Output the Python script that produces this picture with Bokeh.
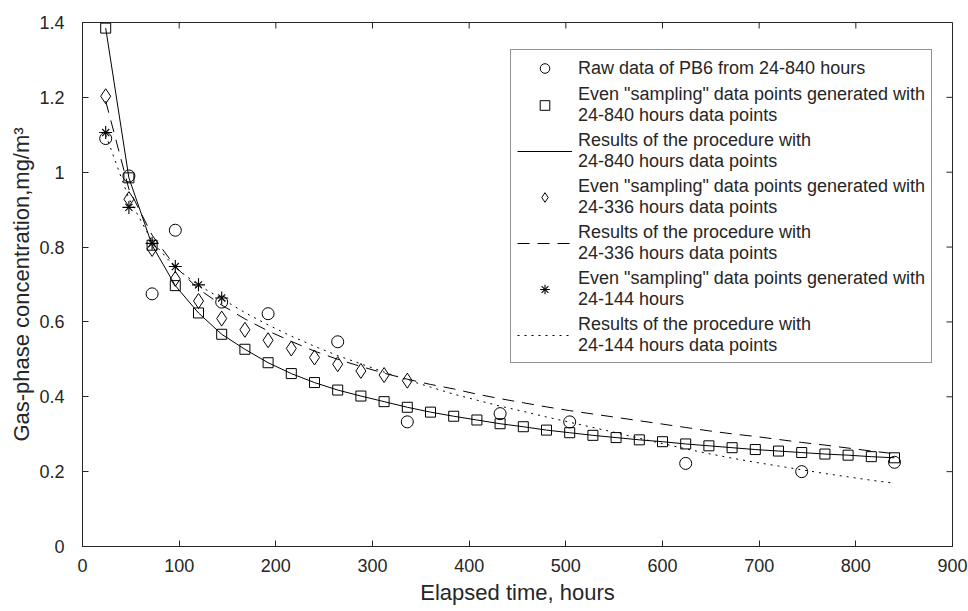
import math
from bokeh.plotting import figure
from bokeh.models import Range1d, FixedTicker, Legend, LegendItem
from bokeh.embed import file_html
from bokeh.resources import INLINE

# ---------------- data ----------------
raw_hours = [24, 48, 72, 96, 144, 192, 264, 336, 432, 504, 624, 744, 840]
raw_conc = [1.09, 0.99, 0.675, 0.845, 0.653, 0.622, 0.547, 0.333, 0.355, 0.333, 0.222, 0.200, 0.225]

even840_hours = [24, 48, 72, 96, 120, 144, 168, 192, 216, 240, 264, 288, 312, 336, 360,
                 384, 408, 432, 456, 480, 504, 528, 552, 576, 600, 624, 648, 672, 696,
                 720, 744, 768, 792, 816, 840]
even840_conc = [1.385, 0.985, 0.805, 0.697, 0.624, 0.567, 0.527, 0.491, 0.462, 0.438,
                0.418, 0.402, 0.387, 0.372, 0.359, 0.348, 0.338, 0.328, 0.320, 0.311,
                0.304, 0.297, 0.291, 0.285, 0.280, 0.274, 0.269, 0.264, 0.259, 0.255,
                0.251, 0.247, 0.244, 0.240, 0.237]

even336_hours = [24, 48, 72, 96, 120, 144, 168, 192, 216, 240, 264, 288, 312, 336]
even336_conc = [1.203, 0.928, 0.795, 0.715, 0.656, 0.609, 0.579, 0.551, 0.529, 0.505,
                0.487, 0.469, 0.458, 0.443]

even144_hours = [24, 48, 72, 96, 120, 144]
even144_conc = [1.106, 0.906, 0.810, 0.748, 0.699, 0.664]

model_hours = [24, 48, 72, 96, 120, 144, 168, 192, 216, 240, 264, 288, 312, 336, 360,
               384, 408, 432, 456, 480, 504, 528, 552, 576, 600, 624, 648, 672, 696,
               720, 744, 768, 792, 816, 840]
fit840_conc = even840_conc
fit336_conc = [1.190, 0.955, 0.832, 0.748, 0.688, 0.645, 0.608, 0.576, 0.548, 0.522,
               0.500, 0.481, 0.463, 0.447, 0.433, 0.421, 0.407, 0.395, 0.384, 0.373,
               0.363, 0.354, 0.345, 0.336, 0.327, 0.318, 0.309, 0.301, 0.294, 0.286,
               0.278, 0.271, 0.263, 0.255, 0.248]
fit144_conc = [1.100, 0.930, 0.815, 0.745, 0.698, 0.662, 0.625, 0.592, 0.562, 0.535,
               0.510, 0.488, 0.466, 0.445, 0.426, 0.407, 0.391, 0.375, 0.361, 0.346,
               0.332, 0.318, 0.304, 0.289, 0.275, 0.261, 0.248, 0.236, 0.225, 0.215,
               0.205, 0.195, 0.186, 0.177, 0.169]

x_ticks = [0, 100, 200, 300, 400, 500, 600, 700, 800, 900]
x_tick_labels = ["0", "100", "200", "300", "400", "500", "600", "700", "800", "900"]
y_ticks = [0, 0.2, 0.4, 0.6, 0.8, 1.0, 1.2, 1.4]
y_tick_labels = ["0", "0.2", "0.4", "0.6", "0.8", "1", "1.2", "1.4"]

legend_labels = [
    "Raw data of PB6 from 24-840 hours",
    'Even "sampling" data points generated with\n24-840 hours data points',
    "Results of the procedure with\n24-840 hours data points",
    'Even "sampling" data points generated with\n24-336 hours data points',
    "Results of the procedure with\n24-336 hours data points",
    'Even "sampling" data points generated with\n24-144 hours',
    "Results of the procedure with\n24-144 hours data points",
]

# ---------------- styling ----------------
FONT = "Liberation Sans"
AX = "#262626"
K = "black"

X_MIN, X_MAX = 0, 900
Y_MIN, Y_MAX = 0, 1.4

p = figure(width=968, height=611, x_range=Range1d(X_MIN, X_MAX), y_range=Range1d(Y_MIN, Y_MAX),
           output_backend="svg", toolbar_location=None,
           min_border_left=82, min_border_right=16, min_border_top=22, min_border_bottom=65)
p.xgrid.visible = False
p.ygrid.visible = False
p.outline_line_color = AX
p.outline_line_width = 1
p.background_fill_color = "white"
p.border_fill_color = "white"

xa = p.xaxis[0]
xa.ticker = FixedTicker(ticks=x_ticks)
xa.major_label_overrides = {t: l for t, l in zip(x_ticks, x_tick_labels)}
xa.axis_label = "Elapsed time, hours"
xa.major_label_standoff = 12
xa.axis_label_standoff = 5

ya = p.yaxis[0]
ya.ticker = FixedTicker(ticks=y_ticks)
ya.major_label_overrides = {t: l for t, l in zip(y_ticks, y_tick_labels)}
ya.axis_label = "Gas-phase concentration,mg/m\u00b3"
ya.major_label_standoff = 18
ya.axis_label_standoff = 2

for a in (xa, ya):
    a.major_tick_in = 6
    a.major_tick_out = 0
    a.minor_tick_line_color = None
    a.axis_line_color = AX
    a.major_tick_line_color = AX
    a.major_label_text_font = FONT
    a.major_label_text_font_size = "18px"
    a.major_label_text_color = AX
    a.axis_label_text_font = FONT
    a.axis_label_text_font_size = "22px"
    a.axis_label_text_font_style = "normal"
    a.axis_label_text_color = AX

# inward tick marks on the top and right edges of the box
p.ray(x=x_ticks, y=Y_MAX, length=6, length_units="screen", angle=-math.pi / 2,
      line_color=AX, line_width=1)
p.ray(x=X_MAX, y=y_ticks, length=6, length_units="screen", angle=math.pi,
      line_color=AX, line_width=1)

r_raw = p.scatter(raw_hours, raw_conc, marker="circle", size=12, fill_color=None,
                  line_color=K, line_width=1)
r_sq = p.scatter(even840_hours, even840_conc, marker="square", size=10, fill_color=None,
                 line_color=K, line_width=1)
r_fit840 = p.line(model_hours, fit840_conc, line_color=K, line_width=1)
r_dia = p.scatter(even336_hours, even336_conc, marker="diamond", size=15, fill_color=None,
                  line_color=K, line_width=1)
r_fit336 = p.line(model_hours, fit336_conc, line_color=K, line_width=1, line_dash="12 8")
r_star1 = p.scatter(even144_hours, even144_conc, marker="cross", size=13,
                    line_color=K, line_width=1.1)
r_star2 = p.scatter(even144_hours, even144_conc, marker="x", size=10,
                    line_color=K, line_width=1.1)
r_fit144 = p.line(model_hours, fit144_conc, line_color=K, line_width=1, line_dash="2 5")

groups = [[r_raw], [r_sq], [r_fit840], [r_dia], [r_fit336], [r_star1, r_star2], [r_fit144]]
legend = Legend(items=[LegendItem(label=l, renderers=g) for l, g in zip(legend_labels, groups)],
                location=(428, 183), orientation="vertical",
                glyph_width=55, glyph_height=24, label_height=24, label_standoff=6,
                padding=6, spacing=4, margin=0,
                label_text_font=FONT, label_text_font_size="18px", label_text_color=AX,
                border_line_color=AX, border_line_width=1,
                background_fill_color="white", background_fill_alpha=1.0)
p.add_layout(legend)

open("out.html", "w").write(file_html(p, INLINE))
